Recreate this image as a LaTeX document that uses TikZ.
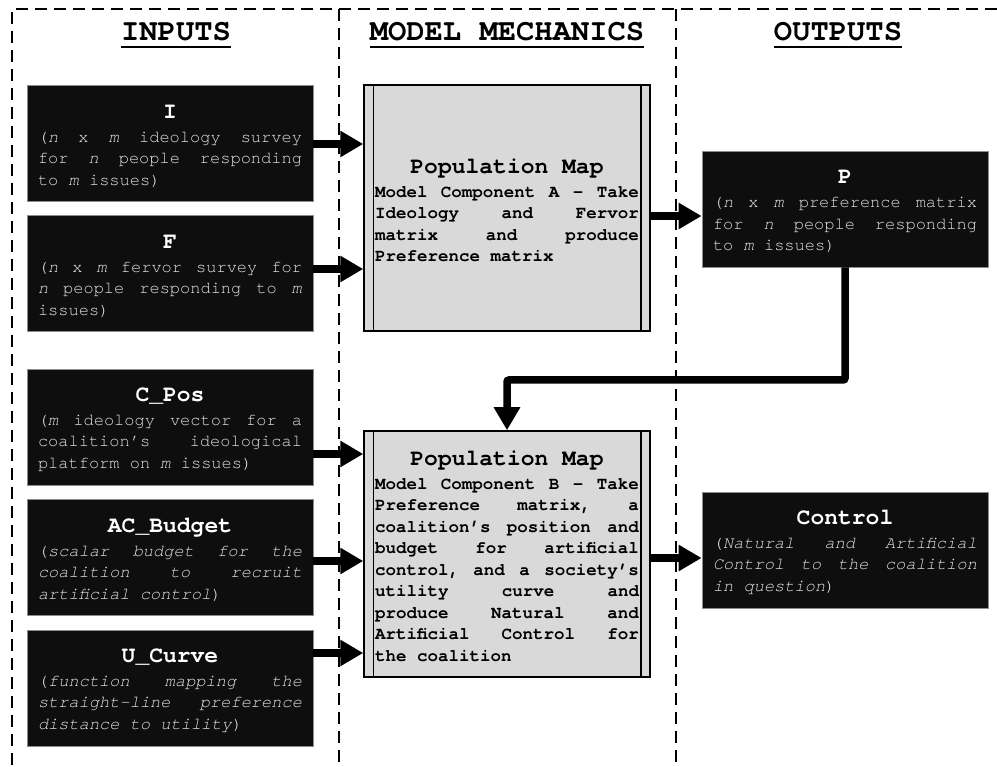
\documentclass[tikz,border=0pt]{standalone}
\usepackage{fontspec}
\newfontfamily\cour{texgyrecursor}[Extension=.otf,UprightFont=*-regular,
  BoldFont=*-bold,ItalicFont=*-italic,BoldItalicFont=*-bolditalic]
\usetikzlibrary{arrows.meta}
\definecolor{boxblack}{HTML}{0E0E0E}
\definecolor{mapgray}{HTML}{D9D9D9}
\definecolor{txtgray}{HTML}{E2E2E2}
\newcommand\wsp{\spaceskip=.6em\relax}
\newcommand\jl[1]{\leavevmode\hbox to\linewidth{\spaceskip=.6em plus 1fil\relax#1}}
\newcommand\ttl[2][white]{\wsp\makebox[\linewidth]{\rule{0pt}{19pt}\fontsize{23}{25}\selectfont\wsp
  \bfseries\color{#1}#2}\\[2.5pt]}
\frenchspacing

\begin{document}
\begin{tikzpicture}[x=1pt,y=-1pt,>={Triangle[length=23pt,width=25pt]},
  frame/.style={line width=2.5pt,dash pattern=on 12pt off 7pt},
  divider/.style={line width=2pt,dash pattern=on 12pt off 7pt},
  head/.style={font=\cour\fontsize{30.5}{32}\selectfont\wsp\bfseries,inner sep=0pt},
  uline/.style={line width=2.2pt},
  data/.style={fill=boxblack,draw=black!45,line width=.8pt,text=txtgray,
    text width=264pt,align=left,inner xsep=11pt,inner ysep=4pt,minimum height=116pt,
    font=\cour\fontsize{17}{21.5}\selectfont},
  map/.style={fill=mapgray,draw=black,line width=1.5pt,text width=264pt,align=left,
    inner xsep=11pt,inner ysep=2pt,minimum height=246pt,
    font=\cour\bfseries\fontsize{17.5}{21.5}\selectfont},
  flow/.style={->,line width=7.5pt}]
\useasboundingbox (0,0) rectangle (997,767);
\draw[frame] (997,9) -- (12,9) -- (12,767);
\foreach \x in {339,676}
  \draw[divider] (\x,9) -- (\x,767);

\node[head] (hin) at (176,32) {INPUTS};
\node[head] (hmod) at (507,32) {MODEL MECHANICS};
\node[head] (hout) at (838,32) {OUTPUTS};
\foreach \h in {hin,hmod,hout}
  \draw[uline] ([yshift=-6.5pt]\h.base west) -- ([yshift=-6.5pt]\h.base east);

\node[data] (ideo) at (170,143.5) {\ttl{I}\jl{(\textit{n} x \textit{m} ideology survey}\\
  \jl{for \textit{n} people responding}\\to \textit{m} issues)};
\node[data] (ferv) at (170,273.5) {\ttl{F}\jl{(\textit{n} x \textit{m} fervor survey for}\\
  \jl{\textit{n} people responding to \textit{m}}\\issues)};
\node[data] (cpos) at (170,427) {\ttl{C\_Pos}\jl{(\textit{m} ideology vector for a}\\
  \jl{coalition’s ideological}\\platform on \textit{m} issues)};
\node[data] (budg) at (170,557.5) {\ttl{AC\_Budget}\jl{(\textit{scalar budget for the}}\\
  \jl{\textit{coalition to recruit}}\\\textit{artificial control})};
\node[data] (ucur) at (170,688) {\ttl{U\_Curve}\jl{(\textit{function mapping the}}\\
  \jl{\textit{straight-line preference}}\\\textit{distance to utility})};

\node[map] (mapa) at (507,208) {\ttl[black]{Population Map}\jl{Model Component A – Take}\\
  \jl{Ideology and Fervor}\\\jl{matrix and produce}\\Preference matrix};
\node[map] (mapb) at (507,554) {\ttl[black]{Population Map}\jl{Model Component B – Take}\\
  \jl{Preference matrix, a}\\\jl{coalition’s position and}\\\jl{budget for artificial}\\
  \jl{control, and a society’s}\\\jl{utility curve and}\\\jl{produce Natural and}\\
  \jl{Artificial Control for}\\the coalition};
\foreach \m in {mapa,mapb} {
  \draw[line width=1.5pt] ([xshift=10pt]\m.north west) -- ([xshift=10pt]\m.south west);
  \draw[line width=1.5pt] ([xshift=-10pt]\m.north east) -- ([xshift=-10pt]\m.south east);
}

\node[data] (pref) at (845,209) {\ttl{P}\jl{(\textit{n} x \textit{m} preference matrix}\\
  \jl{for \textit{n} people responding}\\to \textit{m} issues)};
\node[data] (ctrl) at (845,550) {\ttl{Control}\jl{(\textit{Natural and Artificial}}\\
  \jl{\textit{Control to the coalition}}\\\textit{in question})};

\foreach \s/\t/\d in {ideo/mapa/-0.5,ferv/mapa/4.5,cpos/mapb/-27,budg/mapb/-3.5,
    ucur/mapb/35,mapa/pref/-8,mapb/ctrl/-4}
  \draw[flow] ([yshift=\d pt]\s.east) -- ([yshift=\d pt]\s.east -| \t.west);
\coordinate (bend) at (845,380);
\draw[flow,rounded corners=2pt] (pref.south) -- (bend) -| (mapb.north);
\end{tikzpicture}
\end{document}
